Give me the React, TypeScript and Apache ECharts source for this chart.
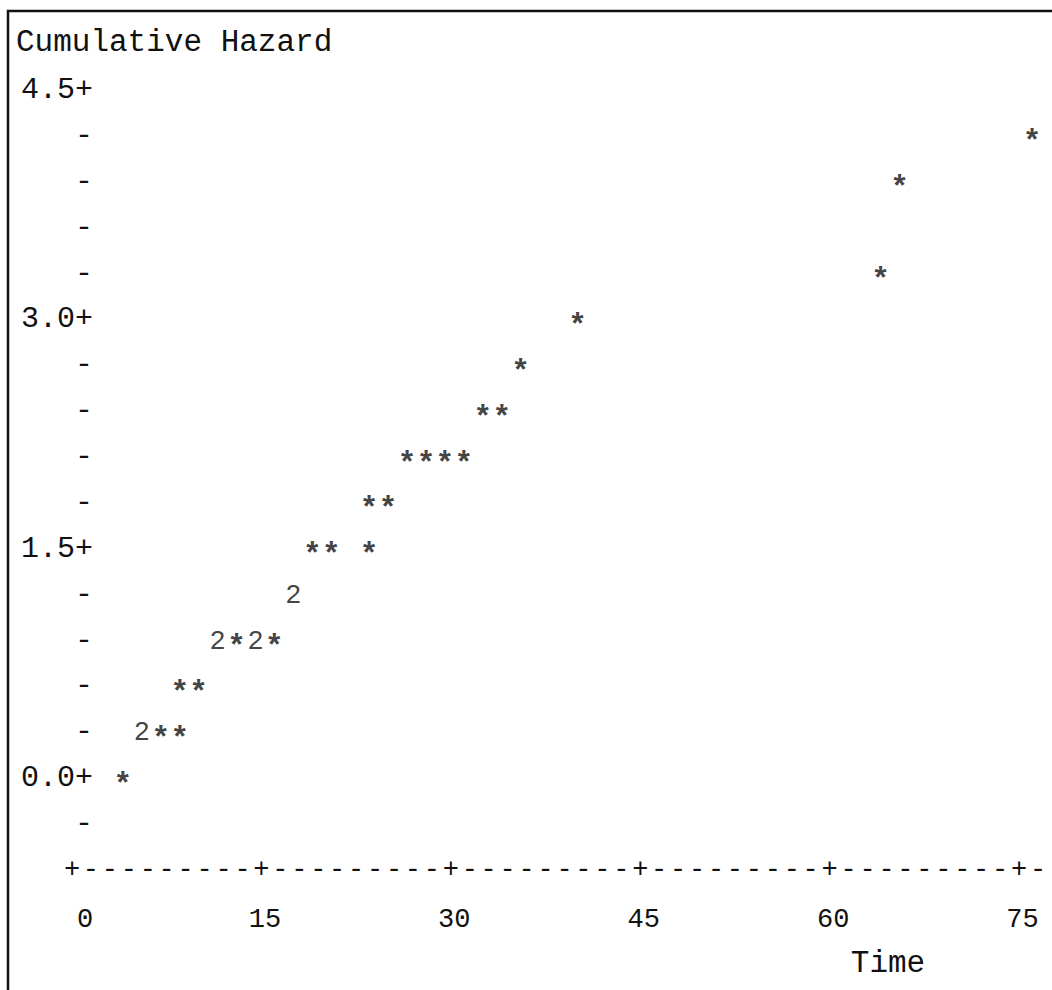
import React, { useEffect, useRef } from 'react';
import * as echarts from 'echarts';

// Plot points drawn with "*" (one observation)
const starTime = [3, 6, 7.5, 7.5, 9, 12, 15, 18, 19.5, 22.5, 22.5, 24, 25.5, 27, 28.5, 30, 31.5, 33, 34.5, 39, 63, 64.5, 75];
const starHazard = [0, 0.3, 0.3, 0.6, 0.6, 0.9, 0.9, 1.5, 1.5, 1.5, 1.8, 1.8, 2.1, 2.1, 2.1, 2.1, 2.4, 2.4, 2.7, 3.0, 3.3, 3.9, 4.2];
// Plot points drawn with "2" (two observations)
const twoTime = [4.5, 10.5, 13.5, 16.5];
const twoHazard = [0.3, 0.9, 0.9, 1.2];

const xTicks = [0, 15, 30, 45, 60, 75];
const yMajorTicks = [0, 1.5, 3.0, 4.5];

const FONT = '"Liberation Mono", "DejaVu Sans Mono", monospace';
const INK = '#111111';

export default function App() {
  const ref = useRef<HTMLDivElement>(null);

  useEffect(() => {
    const chart = echarts.init(ref.current as HTMLDivElement, null, { renderer: 'svg' });

    const glyph = (ch: string, size: number, dy: number, weight: string) => ({
      show: true,
      position: 'inside',
      formatter: ch,
      fontFamily: FONT,
      fontSize: size,
      fontWeight: weight,
      color: INK,
      offset: [0, dy],
    });

    const hidden = {
      axisLine: { show: false },
      axisTick: { show: false },
      splitLine: { show: false },
    };

    // the printer-style axis row: "+" and "-" characters, shifted slightly left
    const ruleLabel = (pick: (r: number) => string) => ({
      hideOverlap: false,
      margin: 0,
      align: 'right',
      verticalAlign: 'middle',
      fontFamily: FONT,
      fontSize: 27,
      color: INK,
      formatter: (v: number) => {
        const r = Math.round(v * 10) / 10;
        const ch = pick(r);
        return ch ? `{c|${ch}}{s| }` : '';
      },
      rich: {
        c: { width: 10, align: 'center', fontFamily: FONT, fontSize: 27, color: INK },
        s: { width: 8 },
      },
    });

    chart.setOption({
      animation: false,
      backgroundColor: '#ffffff',
      title: {
        text: 'Cumulative Hazard',
        left: 16,
        top: 27,
        padding: 0,
        textStyle: { fontFamily: FONT, fontSize: 31, fontWeight: 'normal', color: INK },
      },
      grid: {
        left: 85,
        top: 90,
        width: 966,
        height: 780,
        containLabel: false,
        outerBoundsMode: 'none',
      },
      xAxis: [
        {
          type: 'value',
          min: 0,
          max: 76.5,
          interval: 15,
          position: 'bottom',
          ...hidden,
          axisLabel: {
            showMinLabel: true,
            showMaxLabel: false,
            margin: 50,
            verticalAlign: 'middle',
            fontFamily: FONT,
            fontSize: 27,
            color: INK,
            formatter: (v: number) => {
              const r = Math.round(v * 10) / 10;
              if (!xTicks.includes(r)) return '';
              return r < 10 ? String(r) : `${r}{s| }`;
            },
            rich: { s: { width: 19 } },
          },
        },
        {
          type: 'value',
          min: 0,
          max: 76.5,
          interval: 15,
          position: 'bottom',
          ...hidden,
          axisLabel: {
            showMinLabel: true,
            showMaxLabel: false,
            ...ruleLabel((r) => (xTicks.includes(r) ? '+' : '')),
          },
        },
        {
          type: 'value',
          min: 0,
          max: 76.5,
          interval: 1.5,
          position: 'bottom',
          ...hidden,
          axisLabel: {
            showMinLabel: true,
            showMaxLabel: true,
            ...ruleLabel((r) => (xTicks.includes(r) ? '' : '-')),
          },
        },
      ],
      yAxis: {
        type: 'value',
        min: -0.6,
        max: 4.5,
        interval: 0.3,
        ...hidden,
        axisLabel: {
          showMinLabel: true,
          showMaxLabel: true,
          margin: -8,
          fontFamily: FONT,
          fontSize: 30,
          color: INK,
          formatter: (v: number) => {
            const r = Math.round(v * 10) / 10;
            if (r < -0.45) return '';
            if (yMajorTicks.includes(r)) return r.toFixed(1) + '+';
            return '-';
          },
        },
      },
      series: [
        {
          type: 'scatter',
          xAxisIndex: 0,
          yAxisIndex: 0,
          data: starTime.map((t, i) => [t, starHazard[i]]),
          symbol: 'circle',
          symbolSize: 1,
          itemStyle: { color: 'rgba(0,0,0,0)' },
          label: glyph('*', 31, 7, 'bold'),
          silent: true,
          emphasis: { disabled: true },
        },
        {
          type: 'scatter',
          xAxisIndex: 0,
          yAxisIndex: 0,
          data: twoTime.map((t, i) => [t, twoHazard[i]]),
          symbol: 'circle',
          symbolSize: 1,
          itemStyle: { color: 'rgba(0,0,0,0)' },
          label: glyph('2', 27, 1, 'normal'),
          silent: true,
          emphasis: { disabled: true },
        },
      ],
      graphic: [
        {
          type: 'polyline',
          silent: true,
          shape: { points: [[8, 990], [8, 11], [1052, 11]] },
          style: { stroke: INK, lineWidth: 2.5, fill: null },
        },
        {
          type: 'text',
          x: 888,
          y: 963,
          silent: true,
          style: {
            text: 'Time',
            fontFamily: FONT,
            fontSize: 31,
            fill: INK,
            align: 'center',
            verticalAlign: 'middle',
          },
        },
      ],
    });

    return () => chart.dispose();
  }, []);

  return (
    <div
      ref={ref}
      style={{ position: 'fixed', left: 0, top: 0, width: 1052, height: 990, background: '#fff' }}
    />
  );
}
